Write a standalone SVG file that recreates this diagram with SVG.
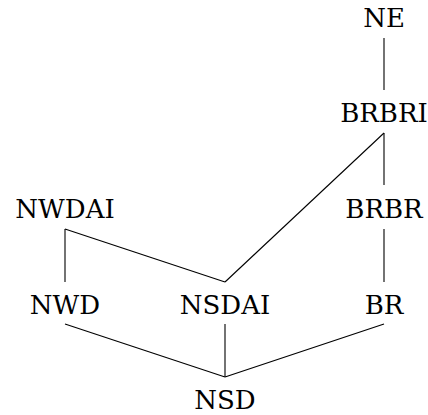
<svg xmlns="http://www.w3.org/2000/svg" width="428" height="415" viewBox="0 0 428 415">
<style>
text{font-family:'DejaVu Serif',serif;font-size:26px;fill:#000;text-anchor:middle}
.e{stroke:#000;stroke-width:1.1;fill:none}
</style>
<rect width="428" height="415" fill="#fff"/>
<g id="connectors">
<line class="e" x1="384" y1="38" x2="384" y2="90"/>
<line class="e" x1="384" y1="133" x2="384" y2="185"/>
<line class="e" x1="384" y1="133" x2="225" y2="282"/>
<line class="e" x1="384" y1="229" x2="384" y2="282"/>
<line class="e" x1="65" y1="229" x2="65" y2="282"/>
<line class="e" x1="65" y1="229" x2="225" y2="282"/>
<line class="e" x1="65" y1="324" x2="225" y2="377"/>
<line class="e" x1="225" y1="324" x2="225" y2="377"/>
<line class="e" x1="384" y1="324" x2="225" y2="377"/>
</g>
<g id="NE"><text x="384" y="27">NE</text></g>
<g id="BRBRI"><text x="384" y="122">BRBRI</text></g>
<g id="BRBR"><text x="384" y="218">BRBR</text></g>
<g id="NWDAI"><text x="65" y="218">NWDAI</text></g>
<g id="NWD"><text x="65" y="314">NWD</text></g>
<g id="NSDAI"><text x="225" y="314">NSDAI</text></g>
<g id="BR"><text x="384" y="314">BR</text></g>
<g id="NSD"><text x="225" y="409">NSD</text></g>
</svg>
